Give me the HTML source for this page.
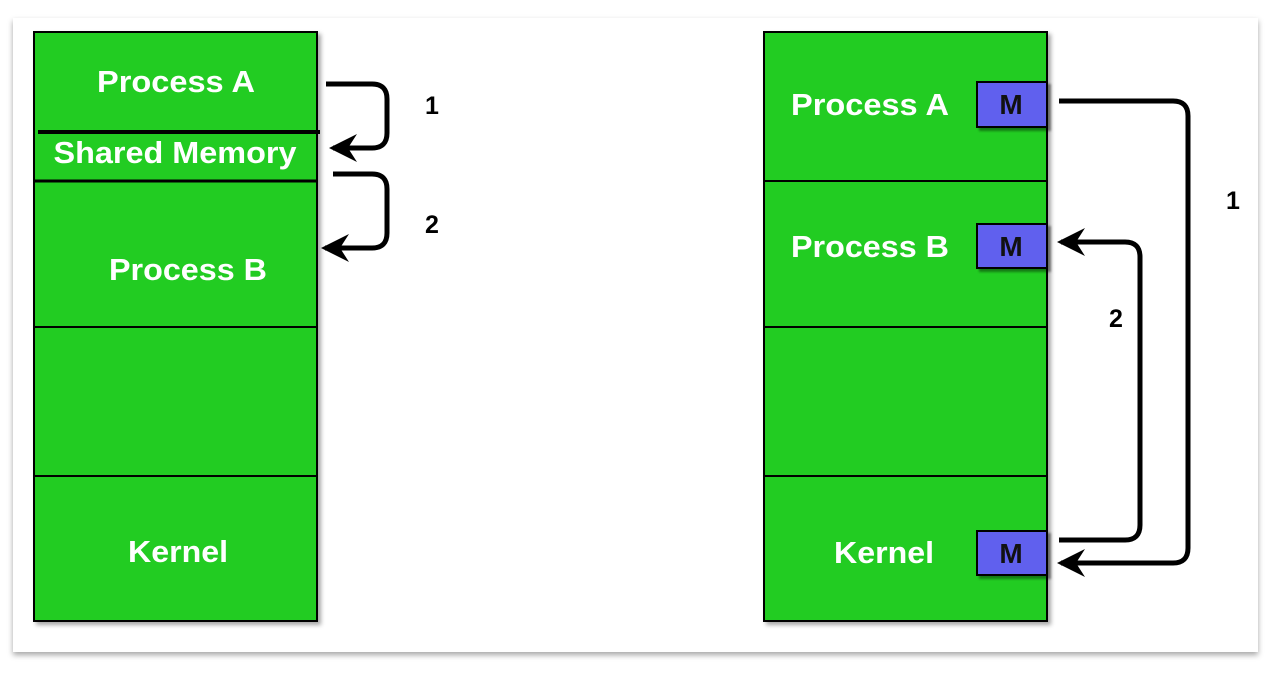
<!DOCTYPE html>
<html><head><style>
body{margin:0;background:#fff;}
</style></head><body>
<svg width="1270" height="670" xmlns="http://www.w3.org/2000/svg" font-family="Liberation Sans, sans-serif" font-weight="bold">
<defs>
<filter id="sh" x="-5%" y="-5%" width="110%" height="110%"><feDropShadow dx="0" dy="3" stdDeviation="3" flood-color="#000" flood-opacity="0.35"/></filter>
<marker id="a2" markerWidth="34" markerHeight="34" refX="24" refY="17" orient="auto" markerUnits="userSpaceOnUse"><path d="M0,3 L28,17 L0,31 L9,17 Z" fill="#000"/></marker>
</defs>
<rect x="13" y="18" width="1245" height="634" fill="#fff" filter="url(#sh)"/>
<g stroke="#000" stroke-width="2">
<rect x="34" y="32" width="283" height="589" fill="#22cc22" style="filter:drop-shadow(3px 3px 2px rgba(0,0,0,0.35))"/>
<rect x="764" y="32" width="283" height="589" fill="#22cc22" style="filter:drop-shadow(3px 3px 2px rgba(0,0,0,0.35))"/>
<line x1="38" y1="132" x2="320" y2="132" stroke-width="4"/>
<line x1="34" y1="181" x2="317" y2="181" stroke-width="3"/>
<line x1="34" y1="327" x2="317" y2="327"/>
<line x1="34" y1="476" x2="317" y2="476"/>
<line x1="764" y1="181" x2="1047" y2="181"/>
<line x1="764" y1="327" x2="1047" y2="327"/>
<line x1="764" y1="476" x2="1047" y2="476"/>
<g fill="#6060ee" style="filter:drop-shadow(3px 3px 1px rgba(0,0,0,0.4))">
<rect x="977" y="82" width="70" height="45"/>
<rect x="977" y="224" width="70" height="44"/>
<rect x="977" y="531" width="70" height="44"/>
</g>
</g>
<g fill="#fff" font-size="31" text-anchor="middle">
<text x="176" y="92" textLength="158" lengthAdjust="spacingAndGlyphs">Process A</text>
<text x="175" y="163" textLength="243" lengthAdjust="spacingAndGlyphs">Shared Memory</text>
<text x="188" y="280" textLength="158" lengthAdjust="spacingAndGlyphs">Process B</text>
<text x="178" y="562" textLength="100" lengthAdjust="spacingAndGlyphs">Kernel</text>
<text x="870" y="115" textLength="158" lengthAdjust="spacingAndGlyphs">Process A</text>
<text x="870" y="257" textLength="158" lengthAdjust="spacingAndGlyphs">Process B</text>
<text x="884" y="563" textLength="100" lengthAdjust="spacingAndGlyphs">Kernel</text>
</g>
<g fill="#111" font-size="28" text-anchor="middle">
<text x="1011" y="114">M</text>
<text x="1011" y="256">M</text>
<text x="1011" y="563">M</text>
</g>
<g font-size="25" fill="#000" text-anchor="middle">
<text x="432" y="114">1</text>
<text x="432" y="233">2</text>
<text x="1233" y="209">1</text>
<text x="1116" y="327">2</text>
</g>
<g fill="none" stroke="#000" stroke-width="5">
<path d="M326,84 H372 Q387,84 387,99 V133 Q387,148 372,148 H333" marker-end="url(#a2)"/>
<path d="M333,174 H372 Q387,174 387,189 V233 Q387,248 372,248 H325" marker-end="url(#a2)"/>
<path d="M1059,101 H1173 Q1188,101 1188,116 V548 Q1188,563 1173,563 H1061" marker-end="url(#a2)"/>
<path d="M1059,540 H1125 Q1140,540 1140,525 V257 Q1140,242 1125,242 H1061" marker-end="url(#a2)"/>
</g>
</svg>
</body></html>
